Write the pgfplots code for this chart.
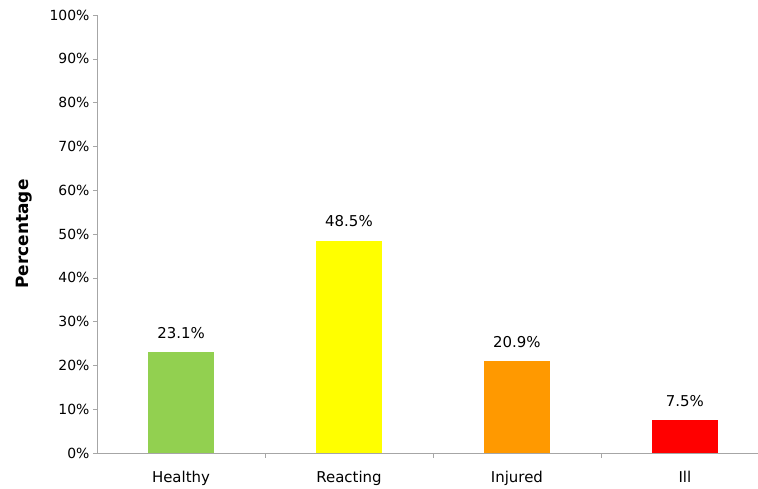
\documentclass[border=0pt]{standalone}
\usepackage{pgfplots}
\pgfplotsset{compat=1.18}
\usepackage{fontspec}
\setmainfont{DejaVu Sans}
\definecolor{cg}{HTML}{92D050}
\definecolor{cy}{HTML}{FFFF00}
\definecolor{co}{HTML}{FF9900}
\definecolor{cr}{HTML}{FF0000}
\begin{document}
\begin{tikzpicture}[x=1bp,y=1bp]
\useasboundingbox (0,0) rectangle (758bp,489bp);
\begin{axis}[
  at={(97bp,36bp)}, anchor=south west,
  scale only axis, width=661bp, height=438bp,
  ymin=0, ymax=100, xmin=-0.5, xmax=3.435,
  axis x line*=bottom, axis y line*=left,
  axis line style={gray!70},
  ytick={0,10,...,100},
  yticklabel={\pgfmathprintnumber{\tick}\%},
  /pgf/number format/assume math mode=true,
  yticklabel style={font=\fontsize{14}{16}\selectfont},
  xticklabel style={font=\fontsize{15}{17}\selectfont, yshift=-11bp},
  y tick style={gray!70}, tick align=outside, major tick length=4bp,
  xtick={0,1,2,3}, xticklabels={Healthy,Reacting,Injured,Ill},
  x tick style={draw=none},
  extra x ticks={0.5,1.5,2.5}, extra x tick labels={},
  extra x tick style={major tick length=5bp, x tick style={draw=gray!70}},
  ylabel={\textbf{Percentage}}, ylabel style={font=\fontsize{17}{19}\selectfont},
  ylabel shift=11bp,
  bar width=66bp,
  nodes near coords={\pgfmathprintnumber[fixed,precision=1,fixed zerofill]{\pgfplotspointmeta}\%},
  nodes near coords style={font=\fontsize{15}{17}\selectfont, yshift=10bp},
]
\addplot[ybar, fill=cg, draw=none] coordinates {(0,23.1)};
\addplot[ybar, fill=cy, draw=none] coordinates {(1,48.5)};
\addplot[ybar, fill=co, draw=none] coordinates {(2,20.9)};
\addplot[ybar, fill=cr, draw=none] coordinates {(3,7.5)};
\end{axis}
\end{tikzpicture}
\end{document}
